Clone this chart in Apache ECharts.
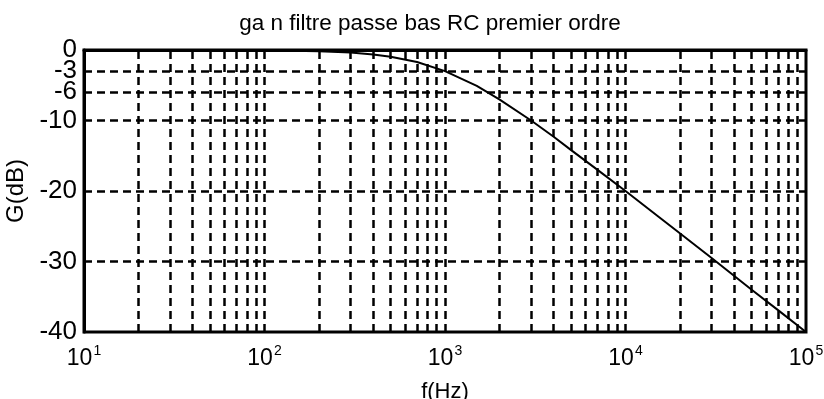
<!DOCTYPE html>
<html>
<head>
<meta charset="utf-8">
<script src="https://cdn.jsdelivr.net/npm/echarts@6/dist/echarts.min.js"></script>
<style>
html,body{margin:0;padding:0;background:#fff;}
#chart{width:824px;height:399px;}
</style>
</head>
<body>
<div id="chart"></div>
<script>
// Data
const titleText = 'ga n filtre passe bas RC premier ordre';
const xName = 'f(Hz)';
const yName = 'G(dB)';
const freqHz = [10, 50, 100, 200, 300, 400, 500, 700, 1000, 1500, 2000, 3000, 4000, 5000, 7000, 10000, 15000, 20000, 30000, 50000, 70000, 100000];
const gainDb = [0, -0.01, -0.04, -0.17, -0.37, -0.64, -0.97, -1.7, -3.0, -5.1, -7.0, -10.0, -12.3, -14.2, -17.0, -20.0, -23.5, -26.0, -29.5, -34.0, -36.9, -40.0];
const yTicks = [0, -3, -6, -10, -20, -30, -40];
const yGridLines = [-3, -6, -10, -20, -30];
const xGridLines = [20,30,40,50,60,70,80,90,100,200,300,400,500,600,700,800,900,1000,2000,3000,4000,5000,6000,7000,8000,9000,10000,20000,30000,40000,50000,60000,70000,80000,90000];

const FONT = '"Liberation Sans", Arial, sans-serif';
const chart = echarts.init(document.getElementById('chart'), null, {renderer: 'canvas'});
const dash = {color: '#000', width: 2.5, type: [8, 5]};

// Two overlaid left axes so that closely-spaced tick labels are not auto-hidden
const yTicksA = yTicks.filter((v, i) => i % 2 === 0);
const yTicksB = yTicks.filter((v, i) => i % 2 === 1);

function yAxisLabel(values) {
  return {
    customValues: values,
    hideOverlap: false,
    margin: 7,
    fontFamily: FONT,
    fontSize: 26,
    color: '#000'
  };
}

chart.setOption({
  animation: false,
  backgroundColor: '#fff',
  title: {
    text: titleText,
    left: 425,
    textAlign: 'center',
    top: 7,
    textStyle: {fontFamily: FONT, fontSize: 22.5, fontWeight: 'normal', color: '#000'}
  },
  grid: {left: 84, right: 18, top: 50, bottom: 67, outerBoundsMode: 'none', containLabel: false, show: true, borderColor: '#000', borderWidth: 3, backgroundColor: 'transparent'},
  xAxis: {
    type: 'log',
    logBase: 10,
    min: 10,
    max: 100000,
    name: xName,
    nameLocation: 'middle',
    nameGap: 49,
    nameTextStyle: {fontFamily: FONT, fontSize: 22, color: '#000'},
    axisLine: {show: true, lineStyle: {color: '#000', width: 3}},
    axisTick: {show: false},
    splitLine: {show: false},
    minorTick: {show: false},
    axisLabel: {
      margin: 12,
      hideOverlap: false,
      color: '#000',
      formatter: function (v) {
        const e = Math.round(Math.log10(v));
        return '{b|10}{s|' + e + '}';
      },
      rich: {
        b: {fontFamily: FONT, fontSize: 23, color: '#000', lineHeight: 26, verticalAlign: 'bottom'},
        s: {fontFamily: FONT, fontSize: 14, color: '#000', verticalAlign: 'top', lineHeight: 14, padding: [0, 0, 0, 1]}
      }
    }
  },
  yAxis: [{
    type: 'value',
    min: -40,
    max: 0,
    position: 'left',
    name: yName,
    nameLocation: 'middle',
    nameGap: 48,
    nameTextStyle: {fontFamily: FONT, fontSize: 24, color: '#000'},
    axisLine: {show: true, lineStyle: {color: '#000', width: 3}},
    axisTick: {show: false},
    splitLine: {show: false},
    axisLabel: yAxisLabel(yTicksA)
  }, {
    type: 'value',
    min: -40,
    max: 0,
    position: 'left',
    offset: 0,
    axisLine: {show: false},
    axisTick: {show: false},
    splitLine: {show: false},
    axisLabel: yAxisLabel(yTicksB)
  }],
  series: [{
    type: 'line',
    yAxisIndex: 0,
    data: freqHz.map((f, i) => [f, gainDb[i]]),
    showSymbol: false,
    smooth: false,
    lineStyle: {color: '#000', width: 2},
    z: 5,
    markLine: {
      silent: true,
      symbol: 'none',
      label: {show: false},
      lineStyle: dash,
      data: xGridLines.map(v => ({xAxis: v})).concat(yGridLines.map(v => ({yAxis: v})))
    }
  }]
});
</script>
</body>
</html>
